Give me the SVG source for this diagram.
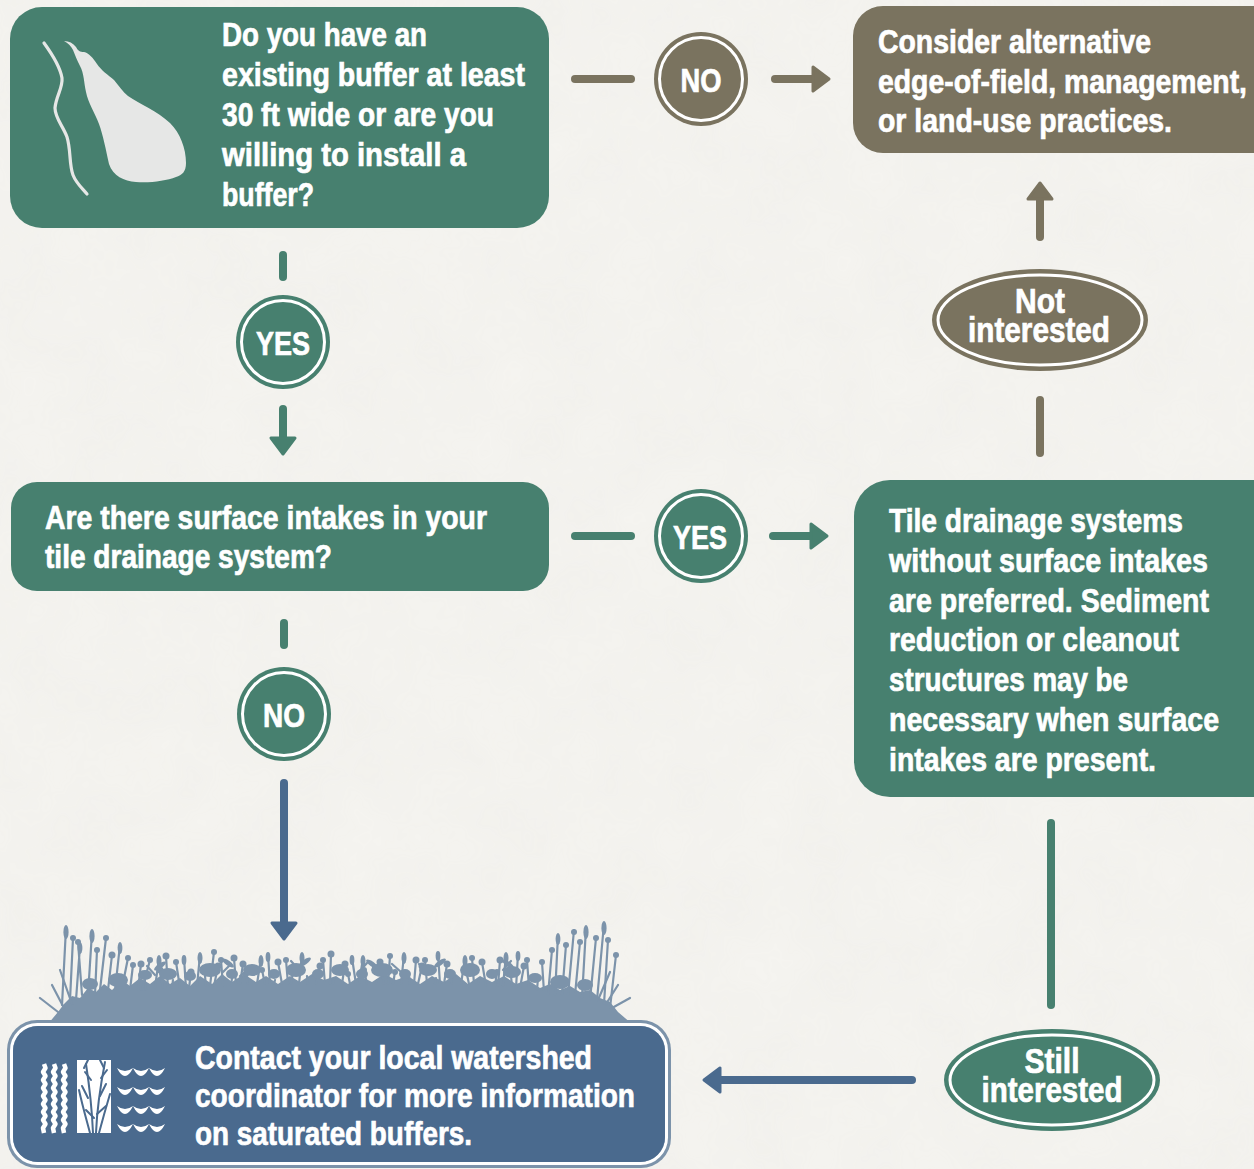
<svg xmlns="http://www.w3.org/2000/svg" width="1254" height="1169" viewBox="0 0 1254 1169">
  <defs>
    <style>
      .t { font-family: "Liberation Sans", Arial, sans-serif; font-weight: 700; font-size: 34px; fill: #ffffff; stroke: #ffffff; stroke-width: 0.7px; }
      .e { font-size: 35px; }
      .c { text-anchor: middle; }
      .teal { fill: #47806f; }
      .khaki { fill: #7a735f; }
      .blue { fill: #4a6a8e; }
      .ring { fill: none; stroke: #ffffff; stroke-width: 3; }
      .lnTeal { stroke: #47806f; stroke-width: 8; stroke-linecap: round; fill: none; }
      .lnKhaki { stroke: #7a735f; stroke-width: 8; stroke-linecap: round; fill: none; }
      .lnBlue { stroke: #4a6a8e; stroke-width: 8; stroke-linecap: round; fill: none; }
      .veg { fill: #7c93aa; }
      .stem { stroke: #7c93aa; stroke-width: 2.2; fill: none; stroke-linecap: round; }
    </style>
    <marker id="headTeal" viewBox="0 0 22 30" refX="3" refY="15" markerWidth="22" markerHeight="30" markerUnits="userSpaceOnUse" orient="auto">
      <path d="M3,3 L19,15 L3,27 Z" fill="#47806f" stroke="#47806f" stroke-width="3" stroke-linejoin="round"/>
    </marker>
    <marker id="headKhaki" viewBox="0 0 22 30" refX="3" refY="15" markerWidth="22" markerHeight="30" markerUnits="userSpaceOnUse" orient="auto">
      <path d="M3,3 L19,15 L3,27 Z" fill="#7a735f" stroke="#7a735f" stroke-width="3" stroke-linejoin="round"/>
    </marker>
    <marker id="headBlue" viewBox="0 0 22 30" refX="3" refY="15" markerWidth="22" markerHeight="30" markerUnits="userSpaceOnUse" orient="auto">
      <path d="M3,3 L19,15 L3,27 Z" fill="#4a6a8e" stroke="#4a6a8e" stroke-width="3" stroke-linejoin="round"/>
    </marker>
    <filter id="paper" x="0" y="0" width="100%" height="100%">
      <feTurbulence type="fractalNoise" baseFrequency="0.015" numOctaves="4" seed="3" result="n"/>
      <feColorMatrix type="matrix" values="0 0 0 0 0.55  0 0 0 0 0.54  0 0 0 0 0.5  0 0 0 0.12 0" />
    </filter>
  </defs>

  <!-- paper background -->
  <rect x="0" y="0" width="1254" height="1169" fill="#f5f4f0"/>
  <rect x="0" y="0" width="1254" height="1169" filter="url(#paper)" opacity="0.6"/>

  <!-- connectors -->
  <g id="connectors">
    <!-- buffer question -> NO -> alternatives -->
    <line class="lnKhaki" x1="575" y1="79" x2="631" y2="79"/>
    <line class="lnKhaki" x1="775" y1="79" x2="813" y2="79" marker-end="url(#headKhaki)"/>
    <!-- buffer question -> YES -> intakes question -->
    <line class="lnTeal" x1="283" y1="255" x2="283" y2="277"/>
    <line class="lnTeal" x1="283" y1="409" x2="283" y2="438" marker-end="url(#headTeal)"/>
    <!-- intakes question -> YES -> tile drainage note -->
    <line class="lnTeal" x1="575" y1="536" x2="631" y2="536"/>
    <line class="lnTeal" x1="773" y1="536" x2="811" y2="536" marker-end="url(#headTeal)"/>
    <!-- intakes question -> NO -> contact -->
    <line class="lnTeal" x1="284" y1="623" x2="284" y2="645"/>
    <line class="lnBlue" x1="284" y1="783" x2="284" y2="923" marker-end="url(#headBlue)"/>
    <!-- tile drainage note -> not interested -> alternatives -->
    <line class="lnKhaki" x1="1040" y1="400" x2="1040" y2="453"/>
    <line class="lnKhaki" x1="1040" y1="237" x2="1040" y2="199" marker-end="url(#headKhaki)"/>
    <!-- tile drainage note -> still interested -> contact -->
    <line class="lnTeal" x1="1051" y1="823" x2="1051" y2="1005"/>
    <line class="lnBlue" x1="912" y1="1080" x2="720" y2="1080" marker-end="url(#headBlue)"/>
  </g>

  <!-- decision: existing buffer -->
  <g id="q-buffer">
    <rect class="teal" x="10" y="7" width="539" height="221" rx="32"/>
    <path d="M64,41 C69,41 73,43 76,47 C78,51 80,52 84,52 C89,53 93,58 97,64 C101,70 108,75 114,80 C119,86 123,92 128,96 C140,104 157,111 170,123 C180,133 186,148 186,163 C186,172 182,175 176,177 C166,181 150,183 136,182 C124,181 113,176 109,164 C106,150 103,135 99,124 C95,113 88,103 86,92 C84,83 84,73 80,66 C77,60 75,55 73,50 C71,46 68,43 64,41 Z" fill="#e6e7e6"/>
    <path d="M44,43 C52,54 60,66 62,78 C63,88 56,96 55,108 C55,118 63,126 67,137 C71,150 69,164 73,175 C76,183 82,188 87,194" fill="none" stroke="#e6e7e6" stroke-width="3.2" stroke-linecap="round"/>
    <text class="t" x="222" y="46" textLength="205" lengthAdjust="spacingAndGlyphs">Do you have an</text>
    <text class="t" x="222" y="86" textLength="303" lengthAdjust="spacingAndGlyphs">existing buffer at least</text>
    <text class="t" x="222" y="126" textLength="272" lengthAdjust="spacingAndGlyphs">30 ft wide or are you</text>
    <text class="t" x="222" y="166" textLength="244" lengthAdjust="spacingAndGlyphs">willing to install a</text>
    <text class="t" x="222" y="206" textLength="92" lengthAdjust="spacingAndGlyphs">buffer?</text>
  </g>

  <!-- answer NO (top) -->
  <g id="a-no-top">
    <circle class="khaki" cx="701" cy="79" r="47"/>
    <circle class="ring" cx="701" cy="79" r="41.5"/>
    <text class="t c" x="701" y="92" textLength="41" lengthAdjust="spacingAndGlyphs">NO</text>
  </g>

  <!-- outcome: alternatives -->
  <g id="o-alternatives">
    <rect class="khaki" x="853" y="6" width="430" height="147" rx="30"/>
    <text class="t" x="878" y="53" textLength="273" lengthAdjust="spacingAndGlyphs">Consider alternative</text>
    <text class="t" x="878" y="93" textLength="369" lengthAdjust="spacingAndGlyphs">edge-of-field, management,</text>
    <text class="t" x="878" y="132" textLength="294" lengthAdjust="spacingAndGlyphs">or land-use practices.</text>
  </g>

  <!-- answer YES (top) -->
  <g id="a-yes-top">
    <circle class="teal" cx="283" cy="342" r="47"/>
    <circle class="ring" cx="283" cy="342" r="41.5"/>
    <text class="t c" x="283" y="355" textLength="54" lengthAdjust="spacingAndGlyphs">YES</text>
  </g>

  <!-- answer: not interested -->
  <g id="a-not-interested">
    <ellipse class="khaki" cx="1040" cy="320" rx="108" ry="51"/>
    <ellipse class="ring" cx="1040" cy="320" rx="102" ry="45"/>
    <text class="t e c" x="1040" y="313" textLength="50" lengthAdjust="spacingAndGlyphs">Not</text>
    <text class="t e c" x="1039" y="342" textLength="142" lengthAdjust="spacingAndGlyphs">interested</text>
  </g>

  <!-- decision: surface intakes -->
  <g id="q-intakes">
    <rect class="teal" x="11" y="482" width="538" height="109" rx="26"/>
    <text class="t" x="45" y="529" textLength="442" lengthAdjust="spacingAndGlyphs">Are there surface intakes in your</text>
    <text class="t" x="45" y="568" textLength="287" lengthAdjust="spacingAndGlyphs">tile drainage system?</text>
  </g>

  <!-- answer YES (middle) -->
  <g id="a-yes-mid">
    <circle class="teal" cx="701" cy="536" r="47"/>
    <circle class="ring" cx="701" cy="536" r="41.5"/>
    <text class="t c" x="700" y="549" textLength="54" lengthAdjust="spacingAndGlyphs">YES</text>
  </g>

  <!-- outcome: tile drainage note -->
  <g id="o-tile">
    <rect class="teal" x="854" y="480" width="440" height="317" rx="36"/>
    <text class="t" x="889" y="532" textLength="294" lengthAdjust="spacingAndGlyphs">Tile drainage systems</text>
    <text class="t" x="889" y="572" textLength="319" lengthAdjust="spacingAndGlyphs">without surface intakes</text>
    <text class="t" x="889" y="612" textLength="320" lengthAdjust="spacingAndGlyphs">are preferred. Sediment</text>
    <text class="t" x="889" y="651" textLength="290" lengthAdjust="spacingAndGlyphs">reduction or cleanout</text>
    <text class="t" x="889" y="691" textLength="239" lengthAdjust="spacingAndGlyphs">structures may be</text>
    <text class="t" x="889" y="731" textLength="330" lengthAdjust="spacingAndGlyphs">necessary when surface</text>
    <text class="t" x="889" y="771" textLength="267" lengthAdjust="spacingAndGlyphs">intakes are present.</text>
  </g>

  <!-- answer NO (lower) -->
  <g id="a-no-low">
    <circle class="teal" cx="284" cy="714" r="47"/>
    <circle class="ring" cx="284" cy="714" r="41.5"/>
    <text class="t c" x="284" y="727" textLength="42" lengthAdjust="spacingAndGlyphs">NO</text>
  </g>

  <!-- answer: still interested -->
  <g id="a-still-interested">
    <ellipse class="teal" cx="1052" cy="1080" rx="108" ry="51"/>
    <ellipse class="ring" cx="1052" cy="1080" rx="102" ry="45"/>
    <text class="t e c" x="1052" y="1073" textLength="55" lengthAdjust="spacingAndGlyphs">Still</text>
    <text class="t e c" x="1052" y="1102" textLength="141" lengthAdjust="spacingAndGlyphs">interested</text>
  </g>

  <!-- outcome: contact coordinator, with meadow silhouette on top -->
  <g id="o-contact">
    <g id="meadow">
      <path class="veg" d="M48,1024 L58,1012 L64,1004 L72,996 L80,998 L88,988 L96,992 L104,984 L112,990 L122,980 L130,986 L140,978 L150,984 L160,976 L170,984 L180,978 L190,986 L200,976 L212,984 L222,974 L232,982 L244,974 L256,982 L266,976 L278,984 L290,976 L300,982 L312,974 L324,980 L336,976 L348,984 L360,976 L372,982 L384,974 L396,980 L408,976 L420,984 L432,976 L444,982 L456,974 L468,984 L480,976 L492,982 L504,976 L516,984 L528,980 L540,988 L550,984 L560,990 L570,986 L580,992 L590,990 L600,998 L610,1002 L618,1012 L632,1024 Z"/>
      <g class="stem">
        <path d="M62,1005 L66,928 M70,1000 L73,938 M76,1000 L80,946 M82,995 L78,942 M88,995 L92,932 M95,995 L97,950 M100,990 L106,938 M108,990 L112,955 M115,990 L120,945 M122,988 L128,958 M130,990 L133,965"/>
        <path d="M58,1012 L40,998 M64,1008 L52,985 M72,1004 L60,970 M612,1008 L630,998 M606,1004 L618,985 M598,1000 L610,972"/>
        <path d="M138,990 L141,964 M146,990 L144,974 M155,988 L159,958 M163,988 L160,970 M172,988 L173,980 M180,988 L176,962 M189,988 L191,972 M197,986 L200,955 M206,986 L205,976 M214,986 L218,966 M223,986 L221,960 M231,986 L232,978 M240,984 L243,964 M248,984 L246,974 M257,984 L261,958 M265,984 L262,970 M274,984 L275,980 M282,984 L278,962 M291,984 L293,972 M299,984 L302,955 M308,984 L307,976 M316,984 L320,966 M325,984 L323,960 M333,984 L334,978 M342,984 L345,964 M350,984 L348,974 M359,984 L363,958 M367,984 L364,970 M376,984 L377,980 M384,984 L380,962 M393,984 L395,972 M401,984 L404,955 M410,984 L409,976 M418,984 L422,966 M427,984 L425,960 M435,984 L436,978 M444,984 L447,964 M452,984 L450,974 M461,984 L465,958 M469,984 L466,970 M478,984 L479,980 M486,986 L482,962 M495,986 L497,972 M503,986 L506,955 M512,986 L511,976 M520,988 L524,966 M529,988 L527,960 M537,990 L538,978"/>
        <path d="M548,995 L552,950 M555,995 L558,935 M562,995 L566,945 M568,995 L574,930 M575,995 L580,942 M582,998 L586,928 M590,1000 L596,938 M597,1000 L604,924 M604,1004 L608,940 M610,1008 L616,955"/>
        <path d="M155,975 L147,966 M223,972 L231,964 M299,970 L291,961 M359,972 L367,963 M427,972 L419,964 M503,970 L511,961 M240,976 L250,968 M401,972 L392,964"/>
        <path d="M142,990 L150,960 M168,988 L166,956 M186,988 L184,958 M210,986 L214,952 M236,984 L234,958 M270,984 L268,955 M288,984 L286,960 M330,984 L331,954 M356,984 L352,958 M388,984 L390,956 M414,984 L416,960 M440,984 L438,954 M474,984 L472,958 M498,986 L500,960 M516,988 L518,954 M544,992 L542,962"/>
      </g>
      <g class="veg">
        <ellipse cx="66" cy="932" rx="2.6" ry="7"/>
        <ellipse cx="92" cy="936" rx="2.6" ry="7"/>
        <ellipse cx="80" cy="948" rx="2.4" ry="6"/>
        <circle cx="73" cy="938" r="3"/>
        <circle cx="78" cy="942" r="3"/>
        <circle cx="97" cy="950" r="3"/>
        <circle cx="106" cy="938" r="3"/>
        <circle cx="112" cy="955" r="3.5"/>
        <ellipse cx="120" cy="948" rx="2.4" ry="6"/>
        <circle cx="128" cy="958" r="3"/>
        <circle cx="133" cy="965" r="3"/>
        <circle cx="141" cy="964" r="3.5"/>
        <circle cx="144" cy="974" r="3"/>
        <ellipse cx="159" cy="961" rx="2.5" ry="6"/>
        <circle cx="160" cy="970" r="3.5"/>
        <circle cx="176" cy="962" r="3"/>
        <circle cx="191" cy="972" r="3.5"/>
        <ellipse cx="200" cy="958" rx="2.5" ry="6"/>
        <circle cx="218" cy="966" r="3.5"/>
        <circle cx="221" cy="960" r="3"/>
        <circle cx="243" cy="964" r="3.5"/>
        <circle cx="246" cy="974" r="3"/>
        <ellipse cx="261" cy="961" rx="2.5" ry="6"/>
        <circle cx="262" cy="970" r="3"/>
        <circle cx="278" cy="962" r="3.5"/>
        <circle cx="293" cy="972" r="3"/>
        <ellipse cx="302" cy="958" rx="2.5" ry="6"/>
        <circle cx="320" cy="966" r="3.5"/>
        <circle cx="323" cy="960" r="3"/>
        <circle cx="345" cy="964" r="3.5"/>
        <circle cx="348" cy="974" r="3"/>
        <ellipse cx="363" cy="961" rx="2.5" ry="6"/>
        <circle cx="364" cy="970" r="3"/>
        <circle cx="380" cy="962" r="3.5"/>
        <circle cx="395" cy="972" r="3"/>
        <ellipse cx="404" cy="958" rx="2.5" ry="6"/>
        <circle cx="422" cy="966" r="3.5"/>
        <circle cx="425" cy="960" r="3"/>
        <circle cx="447" cy="964" r="3.5"/>
        <circle cx="450" cy="974" r="3"/>
        <ellipse cx="465" cy="961" rx="2.5" ry="6"/>
        <circle cx="466" cy="970" r="3"/>
        <circle cx="482" cy="962" r="3.5"/>
        <circle cx="497" cy="972" r="3"/>
        <ellipse cx="506" cy="958" rx="2.5" ry="6"/>
        <circle cx="524" cy="966" r="3.5"/>
        <circle cx="527" cy="960" r="3"/>
        <circle cx="538" cy="978" r="3"/>
        <circle cx="552" cy="950" r="3"/>
        <ellipse cx="558" cy="939" rx="2.4" ry="6"/>
        <circle cx="566" cy="945" r="3"/>
        <circle cx="574" cy="932" r="3"/>
        <circle cx="580" cy="942" r="3"/>
        <ellipse cx="586" cy="932" rx="2.6" ry="7"/>
        <circle cx="596" cy="938" r="3"/>
        <ellipse cx="604" cy="928" rx="2.6" ry="7"/>
        <circle cx="608" cy="940" r="3"/>
        <circle cx="616" cy="955" r="3"/>
        <circle cx="150" cy="960" r="3"/>
        <circle cx="166" cy="956" r="3.5"/>
        <ellipse cx="184" cy="960" rx="2.4" ry="5"/>
        <circle cx="214" cy="952" r="3"/>
        <circle cx="234" cy="958" r="3.5"/>
        <ellipse cx="268" cy="957" rx="2.4" ry="5"/>
        <circle cx="286" cy="960" r="3"/>
        <circle cx="331" cy="954" r="3.5"/>
        <ellipse cx="352" cy="960" rx="2.4" ry="5"/>
        <circle cx="390" cy="956" r="3"/>
        <circle cx="416" cy="960" r="3.5"/>
        <ellipse cx="438" cy="956" rx="2.4" ry="5"/>
        <circle cx="472" cy="958" r="3"/>
        <circle cx="500" cy="960" r="3.5"/>
        <ellipse cx="518" cy="956" rx="2.4" ry="5"/>
        <circle cx="542" cy="962" r="3"/>
        <!-- leafy clumps low in the meadow -->
        <ellipse cx="118" cy="980" rx="10" ry="7"/>
        <ellipse cx="145" cy="975" rx="7" ry="5"/>
        <ellipse cx="168" cy="974" rx="9" ry="6"/>
        <ellipse cx="190" cy="976" rx="6" ry="5"/>
        <ellipse cx="210" cy="970" rx="11" ry="7"/>
        <ellipse cx="232" cy="974" rx="6" ry="5"/>
        <ellipse cx="252" cy="970" rx="9" ry="6"/>
        <ellipse cx="274" cy="974" rx="6" ry="5"/>
        <ellipse cx="296" cy="970" rx="10" ry="7"/>
        <ellipse cx="318" cy="974" rx="6" ry="5"/>
        <ellipse cx="340" cy="970" rx="9" ry="6"/>
        <ellipse cx="362" cy="974" rx="6" ry="5"/>
        <ellipse cx="382" cy="970" rx="11" ry="7"/>
        <ellipse cx="405" cy="974" rx="6" ry="5"/>
        <ellipse cx="428" cy="970" rx="9" ry="6"/>
        <ellipse cx="450" cy="974" rx="6" ry="5"/>
        <ellipse cx="470" cy="970" rx="10" ry="7"/>
        <ellipse cx="492" cy="974" rx="6" ry="5"/>
        <ellipse cx="512" cy="972" rx="9" ry="6"/>
        <ellipse cx="535" cy="978" rx="7" ry="5"/>
        <ellipse cx="560" cy="982" rx="10" ry="7"/>
        <ellipse cx="90" cy="984" rx="8" ry="6"/>
        <ellipse cx="585" cy="985" rx="8" ry="6"/>
        <ellipse cx="160" cy="966" rx="7" ry="2.5" transform="rotate(-35 160 966)"/>
        <ellipse cx="228" cy="963" rx="7" ry="2.5" transform="rotate(35 228 963)"/>
        <ellipse cx="305" cy="962" rx="7" ry="2.5" transform="rotate(-35 305 962)"/>
        <ellipse cx="372" cy="964" rx="7" ry="2.5" transform="rotate(35 372 964)"/>
        <ellipse cx="440" cy="963" rx="7" ry="2.5" transform="rotate(-35 440 963)"/>
        <ellipse cx="508" cy="964" rx="7" ry="2.5" transform="rotate(35 508 964)"/>
      </g>
    </g>
    <rect x="7" y="1020" width="664" height="148" rx="30" fill="#7c93aa"/>
    <rect x="11.5" y="1024.5" width="655" height="139" rx="26" fill="none" stroke="#ffffff" stroke-width="3"/>
    <rect class="blue" x="13" y="1026" width="652" height="136" rx="25"/>
    <!-- icon: buffer strips, wetland plants, water -->
    <g fill="none" stroke="#ffffff" stroke-width="4.5" stroke-linejoin="round">
      <polyline points="44,1064 45.5,1068 43,1072 45.5,1076 43,1080 45.5,1084 43,1088 45.5,1092 43,1096 45.5,1100 43,1104 45.5,1108 43,1112 45.5,1116 43,1120 45.5,1124 43,1128 44,1133"/>
      <polyline points="54,1064 55.5,1068 53,1072 55.5,1076 53,1080 55.5,1084 53,1088 55.5,1092 53,1096 55.5,1100 53,1104 55.5,1108 53,1112 55.5,1116 53,1120 55.5,1124 53,1128 54,1133"/>
      <polyline points="64,1064 65.5,1068 63,1072 65.5,1076 63,1080 65.5,1084 63,1088 65.5,1092 63,1096 65.5,1100 63,1104 65.5,1108 63,1112 65.5,1116 63,1120 65.5,1124 63,1128 64,1133"/>
    </g>
    <rect x="77" y="1060" width="34" height="73" fill="#ffffff"/>
    <g fill="none" stroke="#4a6a8e" stroke-width="2" stroke-linecap="round">
      <path d="M93,1133 C92,1110 90,1090 86,1064"/>
      <path d="M96,1133 C97,1108 100,1088 105,1062"/>
      <path d="M90,1133 C86,1118 82,1104 79,1090"/>
      <path d="M99,1133 C103,1118 107,1104 110,1094"/>
      <path d="M88,1098 L82,1086 M100,1096 L106,1084 M91,1080 L85,1072 M101,1078 L107,1070 M94,1118 L86,1110 M97,1114 L106,1106"/>
      <path d="M84,1068 L88,1060 M104,1068 L100,1060"/>
    </g>
    <g fill="#ffffff">
      <path d="M117,1068 Q125,1074 133,1068 Q125,1084 117,1068 Z M133,1068 Q141,1074 149,1068 Q141,1084 133,1068 Z M149,1068 Q157,1074 165,1068 Q157,1084 149,1068 Z"/>
      <path d="M117,1087 Q125,1093 133,1087 Q125,1103 117,1087 Z M133,1087 Q141,1093 149,1087 Q141,1103 133,1087 Z M149,1087 Q157,1093 165,1087 Q157,1103 149,1087 Z"/>
      <path d="M117,1106 Q125,1112 133,1106 Q125,1122 117,1106 Z M133,1106 Q141,1112 149,1106 Q141,1122 133,1106 Z M149,1106 Q157,1112 165,1106 Q157,1122 149,1106 Z"/>
      <path d="M117,1124 Q125,1130 133,1124 Q125,1140 117,1124 Z M133,1124 Q141,1130 149,1124 Q141,1140 133,1124 Z M149,1124 Q157,1130 165,1124 Q157,1140 149,1124 Z"/>
    </g>
    <text class="t" x="195" y="1069" textLength="397" lengthAdjust="spacingAndGlyphs">Contact your local watershed</text>
    <text class="t" x="195" y="1107" textLength="440" lengthAdjust="spacingAndGlyphs">coordinator for more information</text>
    <text class="t" x="195" y="1145" textLength="277" lengthAdjust="spacingAndGlyphs">on saturated buffers.</text>
  </g>
</svg>
